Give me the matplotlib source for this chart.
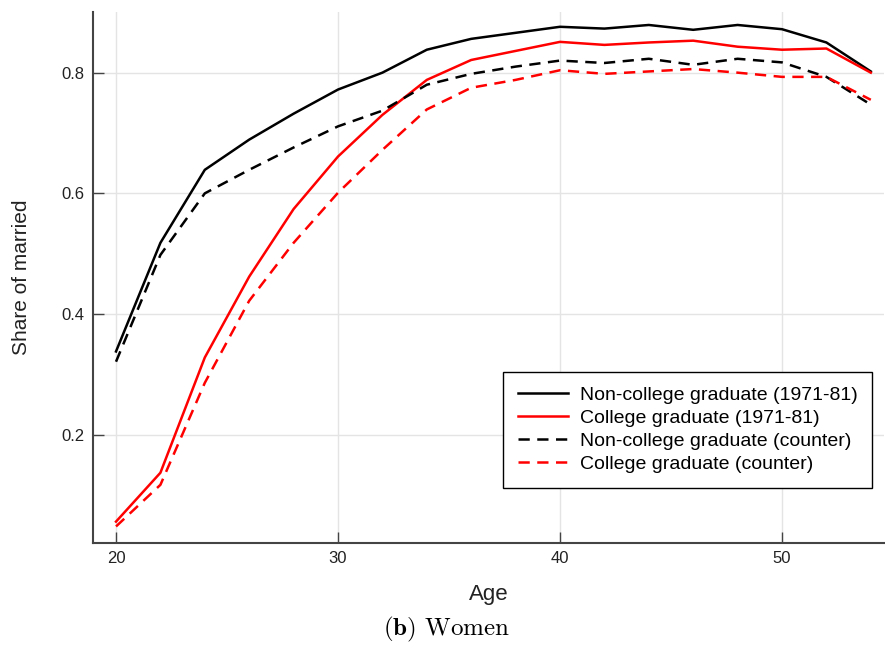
import matplotlib
matplotlib.use("Agg")
import matplotlib.pyplot as plt

# ages every two years, 20 to 54
ages = [20, 22, 24, 26, 28, 30, 32, 34, 36, 38, 40, 42, 44, 46, 48, 50, 52, 54]

noncol_7181 = [0.338, 0.518, 0.639, 0.689, 0.732, 0.772, 0.800, 0.838, 0.856, 0.866,
               0.876, 0.873, 0.879, 0.871, 0.879, 0.872, 0.850, 0.802]
col_7181 = [0.056, 0.137, 0.328, 0.462, 0.574, 0.661, 0.730, 0.788, 0.821, 0.836,
            0.851, 0.846, 0.850, 0.853, 0.843, 0.838, 0.840, 0.800]
noncol_counter = [0.321, 0.498, 0.600, 0.639, 0.676, 0.711, 0.737, 0.780, 0.798, 0.810,
                  0.820, 0.816, 0.823, 0.813, 0.823, 0.817, 0.793, 0.747]
col_counter = [0.048, 0.117, 0.286, 0.422, 0.518, 0.601, 0.672, 0.739, 0.775, 0.788,
               0.804, 0.798, 0.802, 0.806, 0.800, 0.793, 0.793, 0.755]

labels = ["Non-college graduate (1971-81)", "College graduate (1971-81)",
          "Non-college graduate (counter)", "College graduate (counter)"]

plt.rcParams['font.family'] = ['Liberation Sans', 'DejaVu Sans']

fig = plt.figure(figsize=(8.85, 6.5), dpi=100)
ax = fig.add_axes([0.105, 0.165, 0.894, 0.817])

lw = 1.8
dash = (4.5, 3)
ax.plot(ages, noncol_7181, color="black", lw=lw, label=labels[0])
ax.plot(ages, col_7181, color="red", lw=lw, label=labels[1])
ax.plot(ages, noncol_counter, color="black", lw=lw, dashes=dash, label=labels[2])
ax.plot(ages, col_counter, color="red", lw=lw, dashes=dash, label=labels[3])

ax.set_xlim(18.96, 54.6)
ax.set_ylim(0.021, 0.901)
ax.set_xticks([20, 30, 40, 50])
ax.set_yticks([0.2, 0.4, 0.6, 0.8])
ax.set_yticklabels(["0.2", "0.4", "0.6", "0.8"])

ax.grid(True, color="#e4e4e4", lw=1)
ax.set_axisbelow(True)
for s in ["top", "right"]:
    ax.spines[s].set_visible(False)
for s in ["left", "bottom"]:
    ax.spines[s].set_color("#444444")
    ax.spines[s].set_linewidth(1.5)
ax.tick_params(direction="in", length=8, width=1, color="#444444",
               labelsize=12, labelcolor="#222222", pad=6)

ax.set_xlabel("Age", fontsize=16, color="#222222", labelpad=13)
ax.set_ylabel("Share of married", fontsize=15, color="#222222", labelpad=22)

leg = ax.legend(loc="lower left", bbox_to_anchor=(0.506, 0.085), fontsize=14,
                frameon=True, fancybox=False, edgecolor="black", framealpha=1,
                handlelength=2.6, borderpad=0.75, labelspacing=0.28, handletextpad=0.6)
leg.get_frame().set_linewidth(1)

plt.rcParams['mathtext.fontset'] = 'cm'
fig.text(0.505, 0.031, r"$\mathbf{(b)}$ Women", family="cmr10", fontsize=18,
         ha="center", va="center")

fig.savefig("out.png", dpi=100)
